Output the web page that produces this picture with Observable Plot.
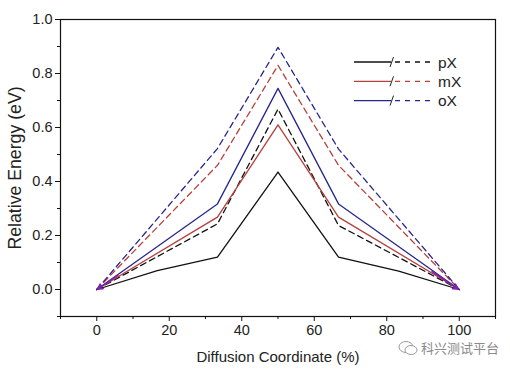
<!DOCTYPE html>
<html>
<head>
<meta charset="utf-8">
<script src="https://cdn.jsdelivr.net/npm/d3@7"></script>
<script src="https://cdn.jsdelivr.net/npm/@observablehq/plot@0.6"></script>
<style>
  body { margin: 0; background: #fff; }
  #wrap { position: relative; width: 510px; height: 372px; font-family: "Liberation Sans", Arial, sans-serif; }
  #legend { position: absolute; left: 0; top: 0; }
  #wm { position: absolute; left: 398px; top: 338px; color: #8a8a8a; font-size: 13px; font-family: "Noto Sans CJK SC", sans-serif; display: flex; align-items: center; gap: 3px; }
  #wrap svg g[aria-label$="tick label"] text { font-size: 14.5px !important; fill: #222; }
  #wrap svg g[aria-label="x-axis label"] text { font-size: 15px !important; fill: #222; }
  #wrap svg g[aria-label="y-axis label"] text { font-size: 17.7px !important; fill: #222; }
</style>
</head>
<body>
<div id="wrap"></div>
<script>
// ---- data ----
const coordFine = [0, 16.7, 33.3, 50, 66.7, 83.3, 100];
const coord = [0, 33.3, 50, 66.7, 100];
const pXsolid = [0, 0.07, 0.12, 0.435, 0.12, 0.068, 0];
const pXdash  = [0, 0.243, 0.668, 0.237, 0];
const mXsolid = [0, 0.268, 0.61, 0.268, 0];
const mXdash  = [0, 0.46, 0.83, 0.46, 0];
const oXsolid = [0, 0.317, 0.745, 0.317, 0];
const oXdash  = [0, 0.522, 0.897, 0.52, 0];
const seriesNames = ["pX", "mX", "oX"];
const seriesColors = ["#111111", "#b5403c", "#26268f"];
const arrowX1 = [5.8, 92.5], arrowY1 = [0.052, 0.066];
const arrowX2 = [0.3, 99.6], arrowY2 = [0.002, 0.002];
const xMajor = [0, 20, 40, 60, 80, 100];
const xMinor = [-10, 10, 30, 50, 70, 90, 110];
const yMajor = [0, 0.2, 0.4, 0.6, 0.8, 1.0];
const yMinor = [-0.1, 0.1, 0.3, 0.5, 0.7, 0.9];

const toRows = (xs, ys) => xs.map((x, i) => ({x, y: ys[i]}));
const lines = [
  {rows: toRows(coordFine, pXsolid), c: 0, dash: null},
  {rows: toRows(coord, pXdash), c: 0, dash: "6,4"},
  {rows: toRows(coord, mXsolid), c: 1, dash: null},
  {rows: toRows(coord, mXdash), c: 1, dash: "6,4"},
  {rows: toRows(coord, oXsolid), c: 2, dash: null},
  {rows: toRows(coord, oXdash), c: 2, dash: "6,4"},
];
const arrows = arrowX1.map((x1, i) => ({x1, y1: arrowY1[i], x2: arrowX2[i], y2: arrowY2[i]}));

const font = "Liberation Sans, Arial, sans-serif";
const chart = Plot.plot({
  width: 510, height: 372,
  marginLeft: 60, marginRight: 15, marginTop: 19, marginBottom: 56,
  style: {fontFamily: font, color: "#222", background: "#fff"},
  x: {domain: [-10, 110]},
  y: {domain: [-0.1, 1.0]},
  marks: [
    Plot.frame({stroke: "#111", strokeWidth: 1.2}),
    Plot.axisX({ticks: xMinor, tickSize: 3, tickFormat: () => "", label: null, stroke: "#111"}),
    Plot.axisX({ticks: xMajor, tickSize: 5, tickPadding: 3, tickFormat: d => String(d), stroke: "#111",
      label: "Diffusion Coordinate (%)", labelAnchor: "center", labelArrow: "none", labelOffset: 45}),
    Plot.axisY({ticks: yMinor, tickSize: 3, tickFormat: () => "", label: null, stroke: "#111"}),
    Plot.axisY({ticks: yMajor, tickSize: 5, tickPadding: 3, tickFormat: d => d.toFixed(1), stroke: "#111",
      label: "Relative Energy (eV)", labelAnchor: "center", labelArrow: "none", labelOffset: 52}),
    ...lines.map(l => Plot.line(l.rows, {x: "x", y: "y", stroke: seriesColors[l.c], strokeWidth: 1.3,
      strokeDasharray: l.dash ?? undefined})),
    Plot.arrow(arrows, {x1: "x1", y1: "y1", x2: "x2", y2: "y2", stroke: "#7d22b0", strokeWidth: 1.6, headLength: 5, bend: 0})
  ]
});
document.getElementById("wrap").appendChild(chart);

// legend (inside plot, top right)
const ns = "http://www.w3.org/2000/svg";
const leg = document.createElementNS(ns, "svg");
leg.setAttribute("id", "legend");
leg.setAttribute("width", 510); leg.setAttribute("height", 372);
seriesNames.forEach((name, i) => {
  const y = 62 + i * 19.3;
  const add = (tag, attrs) => { const e = document.createElementNS(ns, tag); for (const k in attrs) e.setAttribute(k, attrs[k]); leg.appendChild(e); return e; };
  add("line", {x1: 354, x2: 391, y1: y, y2: y, stroke: seriesColors[i], "stroke-width": 1.3});
  add("line", {x1: 390, x2: 393.5, y1: y + 5, y2: y - 5, stroke: "#222", "stroke-width": 1});
  add("line", {x1: 395, x2: 431, y1: y, y2: y, stroke: seriesColors[i], "stroke-width": 1.3, "stroke-dasharray": "5,5"});
  const t = add("text", {x: 438, y: y + 5.5, "font-size": 15.5, "font-family": font, fill: "#222"});
  t.textContent = name;
});
document.getElementById("wrap").appendChild(leg);

// watermark
const wm = document.createElement("div");
wm.id = "wm";
wm.innerHTML = '<svg width="20" height="16"><ellipse cx="8" cy="7" rx="7" ry="5.5" fill="none" stroke="#9a9a9a" stroke-width="1"/><ellipse cx="13" cy="10" rx="6" ry="4.5" fill="#fff" stroke="#9a9a9a" stroke-width="1"/></svg><span>科兴测试平台</span>';
document.getElementById("wrap").appendChild(wm);
</script>
</body>
</html>
